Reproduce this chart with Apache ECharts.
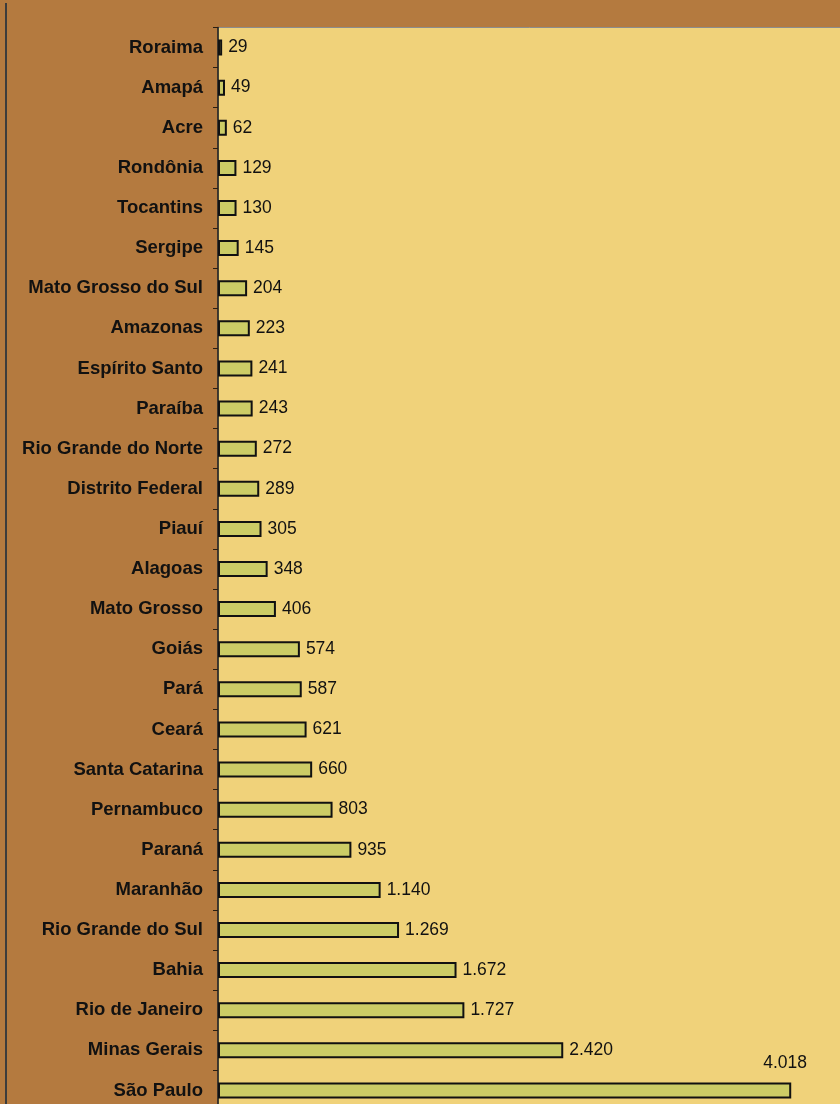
<!DOCTYPE html>
<html>
<head>
<meta charset="utf-8">
<script src="https://cdn.jsdelivr.net/npm/echarts@6/dist/echarts.min.js"></script>
<style>
    html, body { margin: 0; padding: 0; background: #B47A3F; }
    #estadosChart { width: 840px; height: 1104px; overflow: hidden; }
</style>
</head>
<body>
<div id="estadosChart"></div>
<script>
// estados, de cima para baixo
var estados = ['Roraima', 'Amapá', 'Acre', 'Rondônia', 'Tocantins', 'Sergipe', 'Mato Grosso do Sul',
    'Amazonas', 'Espírito Santo', 'Paraíba', 'Rio Grande do Norte', 'Distrito Federal', 'Piauí',
    'Alagoas', 'Mato Grosso', 'Goiás', 'Pará', 'Ceará', 'Santa Catarina', 'Pernambuco', 'Paraná',
    'Maranhão', 'Rio Grande do Sul', 'Bahia', 'Rio de Janeiro', 'Minas Gerais', 'São Paulo']
var valores = [29, 49, 62, 129, 130, 145, 204, 223, 241, 243, 272, 289, 305, 348, 406, 574, 587,
    621, 660, 803, 935, 1140, 1269, 1672, 1727, 2420, 4018]

// 1140 -> "1.140"
function formatBR(v) {
    return String(v).replace(/\B(?=(\d{3})+(?!\d))/g, '.')
}

var chart = echarts.init(document.getElementById('estadosChart'))

var dados = valores.map(function(v, i) {
    var item = { value: v }
    // o maior valor tem o rótulo acima da barra
    if (i === valores.length - 1) {
        item.label = { offset: [-34, -27] }
    }
    return item
})

var option = {
    backgroundColor: '#B47A3F',
    animation: false,
    graphic: [{
        type: 'line',
        shape: { x1: 6, y1: 3, x2: 6, y2: 1104 },
        style: { stroke: '#3C3C3C', lineWidth: 2 }
    }],
    grid: {
        left: 218,
        right: -3,
        top: 27.5,
        height: 1083,
        outerBoundsMode: 'none',
        containLabel: false,
        show: true,
        backgroundColor: '#F0D27A',
        borderColor: '#8C8C8C',
        borderWidth: 1
    },
    xAxis: {
        type: 'value',
        min: 0,
        max: 4381,
        show: false
    },
    yAxis: {
        type: 'category',
        inverse: true,
        data: estados,
        axisLine: { show: true, lineStyle: { color: '#1A1A1A', width: 1.5 } },
        axisTick: { show: true, length: 5, lineStyle: { color: '#2A1E12', width: 1 } },
        axisLabel: {
            margin: 15,
            color: '#111',
            fontFamily: 'Liberation Sans, Arial, sans-serif',
            fontWeight: 'bold',
            fontSize: 18.5
        },
        splitLine: { show: false }
    },
    series: [{
        type: 'bar',
        data: dados,
        barWidth: 16,
        itemStyle: {
            color: '#CCCC66',
            borderColor: '#111',
            borderWidth: 2
        },
        label: {
            show: true,
            position: 'right',
            distance: 6,
            color: '#111',
            fontFamily: 'Liberation Sans, Arial, sans-serif',
            fontSize: 17.5,
            formatter: function(p) {
                return formatBR(p.value)
            }
        }
    }]
}
chart.setOption(option)
</script>
</body>
</html>
